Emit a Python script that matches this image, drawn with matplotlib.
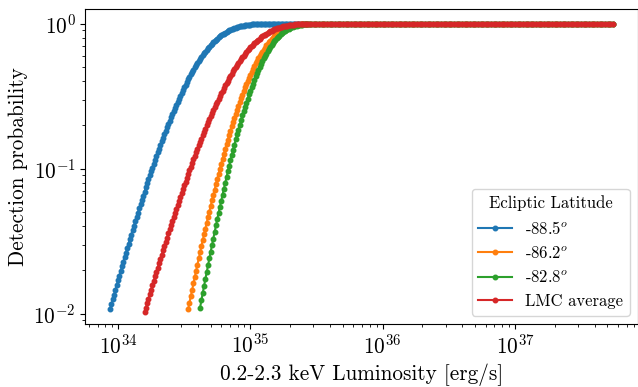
import numpy as np
import matplotlib
matplotlib.use("Agg")
import matplotlib.pyplot as plt

plt.rcParams.update({
    "font.family": "serif",
    "font.serif": ["cmr10"],
    "mathtext.fontset": "cm",
    "axes.formatter.use_mathtext": True,
    "axes.unicode_minus": False,
})

# log10 of the 0.2-2.3 keV luminosity grid [erg/s]
log_lum = [
    33.94, 33.95, 33.96, 33.97, 33.98, 33.99,
    34.00, 34.01, 34.02, 34.03, 34.04, 34.05, 34.06, 34.07, 34.08, 34.09,
    34.10, 34.11, 34.12, 34.13, 34.14, 34.15, 34.16, 34.17, 34.18, 34.19,
    34.20, 34.21, 34.22, 34.23, 34.24, 34.25, 34.26, 34.27, 34.28, 34.29,
    34.30, 34.31, 34.32, 34.33, 34.34, 34.35, 34.36, 34.37, 34.38, 34.39,
    34.40, 34.41, 34.42, 34.43, 34.44, 34.45, 34.46, 34.47, 34.48, 34.49,
    34.50, 34.51, 34.52, 34.53, 34.54, 34.55, 34.56, 34.57, 34.58, 34.59,
    34.60, 34.61, 34.62, 34.63, 34.64, 34.65, 34.66, 34.67, 34.68, 34.69,
    34.70, 34.71, 34.72, 34.73, 34.74, 34.75, 34.76, 34.77, 34.78, 34.79,
    34.80, 34.81, 34.82, 34.83, 34.84, 34.85, 34.86, 34.87, 34.88, 34.89,
    34.90, 34.91, 34.92, 34.93, 34.94, 34.95, 34.96, 34.97, 34.98, 34.99,
    35.00, 35.01, 35.02, 35.03, 35.04, 35.05, 35.06, 35.07, 35.08, 35.09,
    35.10, 35.11, 35.12, 35.13, 35.14, 35.15, 35.16, 35.17, 35.18, 35.19,
    35.20, 35.21, 35.22, 35.23, 35.24, 35.25, 35.26, 35.27, 35.28, 35.29,
    35.30, 35.31, 35.32, 35.33, 35.34, 35.35, 35.36, 35.37, 35.38, 35.39,
    35.40, 35.41, 35.42, 35.43, 35.44,
    35.46, 35.48, 35.50, 35.52, 35.54, 35.56, 35.58, 35.60, 35.62, 35.64,
    35.66, 35.68, 35.70, 35.72, 35.74, 35.76, 35.78, 35.80, 35.82, 35.84,
    35.86, 35.88, 35.90, 35.92, 35.94, 35.96, 35.98, 36.00, 36.02, 36.04,
    36.06, 36.08, 36.10, 36.12, 36.14, 36.16, 36.18, 36.20, 36.22, 36.24,
    36.26, 36.28, 36.30, 36.32, 36.34, 36.36, 36.38, 36.40, 36.42, 36.44,
    36.46, 36.48, 36.50, 36.52, 36.54, 36.56, 36.58, 36.60, 36.62, 36.64,
    36.66, 36.68, 36.70, 36.72, 36.74, 36.76, 36.78, 36.80, 36.82, 36.84,
    36.86, 36.88, 36.90, 36.92, 36.94, 36.96, 36.98, 37.00, 37.02, 37.04,
    37.06, 37.08, 37.10, 37.12, 37.14, 37.16, 37.18, 37.20, 37.22, 37.24,
    37.26, 37.28, 37.30, 37.32, 37.34, 37.36, 37.38, 37.40, 37.42, 37.44,
    37.46, 37.48, 37.50, 37.52, 37.54, 37.56, 37.58, 37.60, 37.62, 37.64,
    37.66, 37.68, 37.70, 37.72, 37.74,
]

# saturated part (log L = 35.46 ... 37.74), shared by all curves
plateau = [
    1, 1, 1, 1, 1, 1, 1, 1, 1, 1, 1, 1, 1, 1, 1, 1, 1, 1, 1, 1,
    1, 1, 1, 1, 1, 1, 1, 1, 1, 1, 1, 1, 1, 1, 1, 1, 1, 1, 1, 1,
    1, 1, 1, 1, 1, 1, 1, 1, 1, 1, 1, 1, 1, 1, 1, 1, 1, 1, 1, 1,
    1, 1, 1, 1, 1, 1, 1, 1, 1, 1, 1, 1, 1, 1, 1, 1, 1, 1, 1, 1,
    1, 1, 1, 1, 1, 1, 1, 1, 1, 1, 1, 1, 1, 1, 1, 1, 1, 1, 1, 1,
    1, 1, 1, 1, 1, 1, 1, 1, 1, 1, 1, 1, 1, 1, 1,
]

# rising parts (each ends at log L = 35.44)
p_885 = [  # starts at log L = 33.94
    0.01075, 0.01161, 0.01254, 0.01353, 0.01459, 0.01573, 0.01696, 0.01829, 0.01970, 0.02121,
    0.02281, 0.02455, 0.02641, 0.02838, 0.03048, 0.03273, 0.03515, 0.03774, 0.04048, 0.04336,
    0.04645, 0.04974, 0.05330, 0.05699, 0.06089, 0.06504, 0.06948, 0.07422, 0.07920, 0.08438,
    0.08986, 0.09572, 0.1019, 0.1084, 0.1151, 0.1222, 0.1297, 0.1377, 0.1460, 0.1545,
    0.1635, 0.1730, 0.1831, 0.1934, 0.2039, 0.2148, 0.2264, 0.2386, 0.2510, 0.2634,
    0.2765, 0.2902, 0.3046, 0.3190, 0.3333, 0.3484, 0.3642, 0.3805, 0.3968, 0.4127,
    0.4293, 0.4465, 0.4645, 0.4819, 0.4989, 0.5163, 0.5346, 0.5534, 0.5712, 0.5883,
    0.6060, 0.6241, 0.6427, 0.6603, 0.6766, 0.6932, 0.7104, 0.7279, 0.7440, 0.7586,
    0.7734, 0.7887, 0.8041, 0.8179, 0.8303, 0.8426, 0.8551, 0.8680, 0.8790, 0.8886,
    0.8981, 0.9076, 0.9175, 0.9258, 0.9324, 0.9391, 0.9458, 0.9526, 0.9583, 0.9625,
    0.9667, 0.9710, 0.9752, 0.9786, 0.9811, 0.9835, 0.9860, 0.9886, 0.9904, 0.9915,
    0.9927, 0.9940, 0.9952, 0.9963, 0.9970, 0.9976, 0.9981, 0.9985, 0.9988, 1,
    1, 1, 1, 1, 1, 1, 1, 1, 1, 1, 1, 1, 1, 1, 1, 1, 1, 1, 1, 1,
    1, 1, 1, 1, 1, 1, 1, 1, 1, 1, 1,
]
p_862 = [  # starts at log L = 34.53
    0.01077, 0.01193, 0.01322, 0.01465, 0.01623, 0.01791, 0.01976,
    0.02180, 0.02405, 0.02653, 0.02916, 0.03203, 0.03519, 0.03864, 0.04244, 0.04640, 0.05066,
    0.05535, 0.06046, 0.06603, 0.07181, 0.07808, 0.08490, 0.09228, 0.1003, 0.1084, 0.1171,
    0.1265, 0.1366, 0.1475, 0.1585, 0.1701, 0.1827, 0.1961, 0.2106, 0.2245, 0.2393,
    0.2550, 0.2718, 0.2897, 0.3068, 0.3246, 0.3435, 0.3633, 0.3845, 0.4038, 0.4238,
    0.4446, 0.4667, 0.4896, 0.5102, 0.5315, 0.5535, 0.5764, 0.6001, 0.6206, 0.6412,
    0.6625, 0.6845, 0.7073, 0.7256, 0.7440, 0.7628, 0.7820, 0.8017, 0.8168, 0.8316,
    0.8464, 0.8618, 0.8772, 0.8884, 0.8989, 0.9097, 0.9207, 0.9318, 0.9389, 0.9458,
    0.9526, 0.9594, 0.9665, 0.9705, 0.9743, 0.9781, 0.9820, 0.9858, 0.9876, 0.9895,
    0.9911, 0.9929, 0.9947, 0.9952, 0.9959,
]
p_828 = [  # starts at log L = 34.62
    0.01101, 0.01236, 0.01387, 0.01551, 0.01731, 0.01931, 0.02155, 0.02404,
    0.02674, 0.02969, 0.03296, 0.03659, 0.04063, 0.04492, 0.04952, 0.05458, 0.06016, 0.06632,
    0.07282, 0.07980, 0.08742, 0.09579, 0.1049, 0.1144, 0.1243, 0.1351, 0.1468, 0.1596,
    0.1726, 0.1860, 0.2005, 0.2162, 0.2331, 0.2499, 0.2668, 0.2848, 0.3042, 0.3249,
    0.3451, 0.3652, 0.3866, 0.4093, 0.4332, 0.4560, 0.4783, 0.5016, 0.5260, 0.5518,
    0.5754, 0.5976, 0.6208, 0.6448, 0.6696, 0.6917, 0.7118, 0.7326, 0.7538, 0.7759,
    0.7947, 0.8112, 0.8279, 0.8450, 0.8625, 0.8768, 0.8886, 0.9006, 0.9127, 0.9252,
    0.9344, 0.9417, 0.9491, 0.9565, 0.9640, 0.9694, 0.9734, 0.9772, 0.9811, 0.9851,
    0.9879, 0.9897, 0.9915, 0.9931, 0.9949,
]
p_lmc = [  # starts at log L = 34.20
    0.01020, 0.01097, 0.01179, 0.01268, 0.01362, 0.01462, 0.01569, 0.01684, 0.01808, 0.01939,
    0.02078, 0.02226, 0.02384, 0.02554, 0.02735, 0.02925, 0.03128, 0.03344, 0.03576, 0.03824,
    0.04081, 0.04354, 0.04645, 0.04955, 0.05284, 0.05633, 0.05994, 0.06378, 0.06787, 0.07221,
    0.07683, 0.08153, 0.08650, 0.09179, 0.09741, 0.1034, 0.1094, 0.1158, 0.1225, 0.1296,
    0.1371, 0.1449, 0.1528, 0.1612, 0.1700, 0.1793, 0.1890, 0.1986, 0.2087, 0.2192,
    0.2303, 0.2419, 0.2535, 0.2653, 0.2776, 0.2905, 0.3041, 0.3176, 0.3311, 0.3451,
    0.3597, 0.3749, 0.3907, 0.4054, 0.4206, 0.4365, 0.4530, 0.4701, 0.4859, 0.5020,
    0.5186, 0.5358, 0.5534, 0.5703, 0.5863, 0.6029, 0.6198, 0.6371, 0.6545, 0.6696,
    0.6852, 0.7011, 0.7173, 0.7340, 0.7482, 0.7619, 0.7759, 0.7901, 0.8046, 0.8178,
    0.8291, 0.8408, 0.8525, 0.8645, 0.8760, 0.8849, 0.8937, 0.9028, 0.9120, 0.9211,
    0.9277, 0.9339, 0.9402, 0.9467, 0.9530, 0.9583, 0.9623, 0.9663, 0.9703, 0.9743,
    0.9779, 0.9802, 0.9824, 0.9849, 0.9872, 0.9895, 0.9906, 0.9917, 0.9929, 0.9940,
    0.9952, 0.9959, 0.9966, 0.9970, 0.9975,
]

series = [p_885, p_862, p_828, p_lmc]
labels = ["-88.5$^o$", "-86.2$^o$", "-82.8$^o$", "LMC average"]
colors = ["#1f77b4", "#ff7f0e", "#2ca02c", "#d62728"]

lum = 10.0 ** np.array(log_lum)

fig = plt.figure(figsize=(6.38, 3.87), dpi=100)
ax = fig.add_axes([0.134, 0.1628, 0.866, 0.8132])

for rise, lab, col in zip(series, labels, colors):
    y = np.array(rise + plateau, dtype=float)
    ax.plot(lum[-len(y):], y, marker=".", ms=6.5, lw=1.5, color=col, label=lab)

ax.set_xscale("log")
ax.set_yscale("log")
ax.set_xlim(10 ** 33.754, 10 ** 37.93)
ax.set_ylim(10 ** -2.071, 10 ** 0.0993)

fs = 15.3
ax.set_xlabel("0.2-2.3 keV Luminosity [erg/s]", fontsize=fs)
ax.set_ylabel("Detection probability", fontsize=fs)
ax.tick_params(axis="both", which="major", labelsize=fs)

leg = ax.legend(loc="lower right", title="Ecliptic Latitude",
                fontsize=12, title_fontsize=12)

fig.savefig("out.png", dpi=100)
